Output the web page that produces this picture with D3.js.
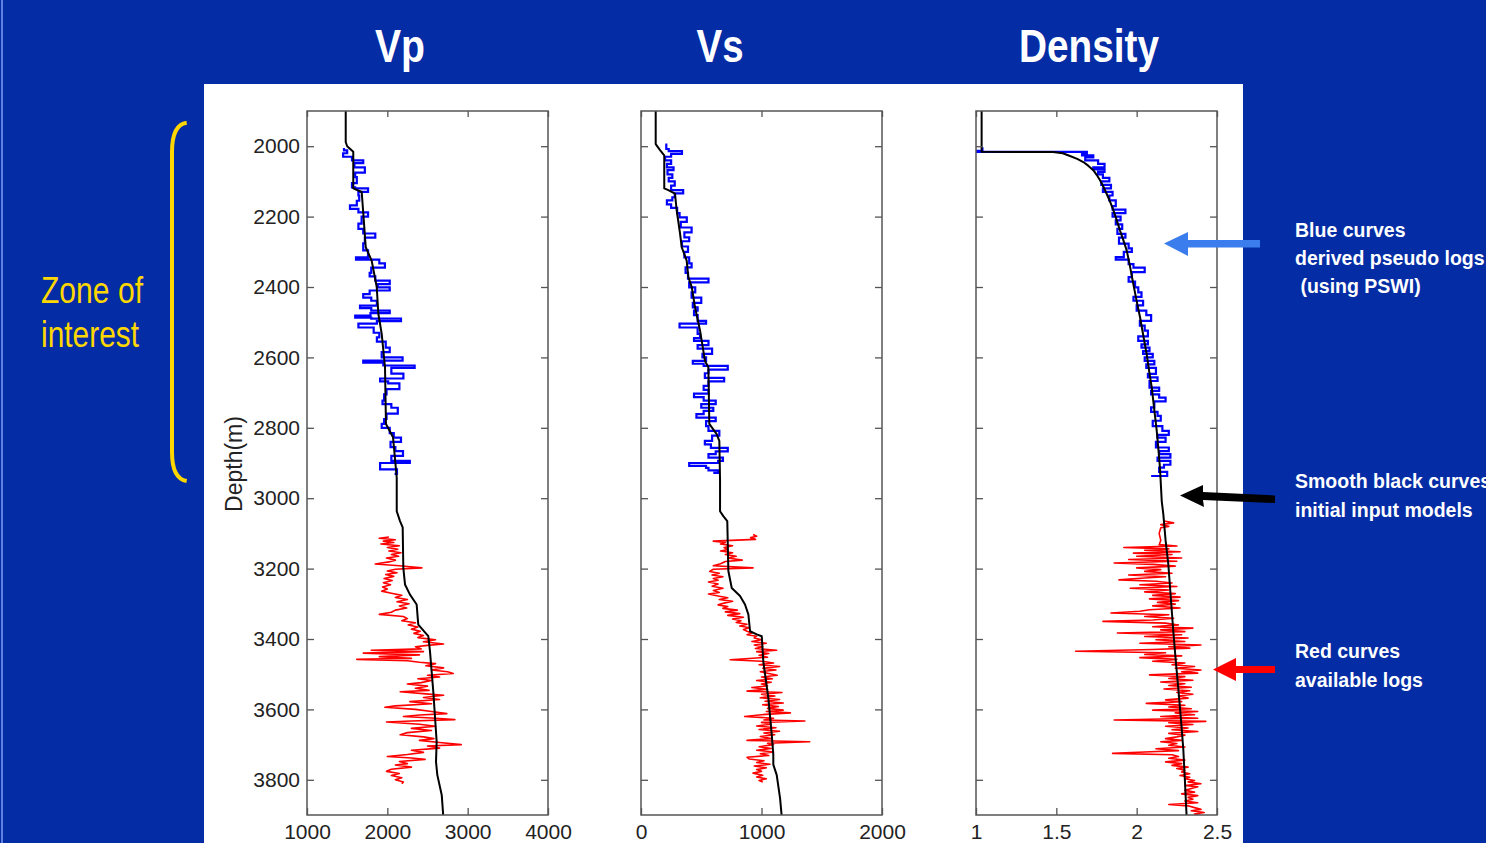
<!DOCTYPE html>
<html><head><meta charset="utf-8">
<script src="https://cdn.jsdelivr.net/npm/d3@7"></script>
<style>
html,body{margin:0;padding:0;background:#032ca5;overflow:hidden}
svg{display:block}
</style></head><body>
<svg id="c" width="1486" height="843"></svg>
<script>
// ---------- data ----------
const titles = ["Vp", "Vs", "Density"];
const depthTicks = [2000, 2200, 2400, 2600, 2800, 3000, 3200, 3400, 3600, 3800];
const vpTicks = [1000, 2000, 3000, 4000];
const vsTicks = [0, 1000, 2000];
const rhoTicks = [1, 1.5, 2, 2.5];
const depthLabel = "Depth(m)";
const zoneLabel = ["Zone of", "interest"];
const notes = [
  ["Blue curves", "derived pseudo logs", " (using PSWI)"],
  ["Smooth black curves", "initial input models"],
  ["Red curves", "available logs"]
];

// [depth, value]
const vpModel = [[1900,1482],[1988,1482],[2000,1500],[2016,1576],[2120,1576],[2130,1681],[2192,1701],[2258,1722],[2287,1731],[2325,1805],[2400,1868],[2476,1888],[2533,1930],[2628,1971],[2789,1983],[2827,2071],[2942,2117],[3037,2117],[3065,2158],[3083,2191],[3198,2199],[3245,2220],[3274,2282],[3302,2365],[3359,2385],[3392,2510],[3435,2531],[3549,2572],[3692,2614],[3749,2606],[3786,2622],[3843,2677],[3905,2697]];
const vpPseudo = [[2005,1460],[2012,1500],[2020,1450],[2030,1560],[2040,1700],[2048,1590],[2060,1720],[2075,1600],[2088,1620],[2105,1560],[2117,1600],[2120,1760],[2130,1640],[2140,1650],[2155,1620],[2168,1535],[2178,1640],[2188,1760],[2200,1680],[2220,1640],[2235,1700],[2248,1850],[2260,1720],[2276,1700],[2296,1760],[2316,1610],[2322,1900],[2333,1970],[2345,1800],[2360,1780],[2370,1850],[2382,2030],[2392,1880],[2401,2030],[2410,1780],[2420,1700],[2430,1800],[2439,1870],[2453,1660],[2460,1800],[2467,2030],[2474,1790],[2481,1600],[2487,1800],[2490,2170],[2497,1870],[2504,1640],[2515,1830],[2530,1900],[2543,1870],[2555,1980],[2572,2030],[2585,1930],[2600,2190],[2609,1700],[2615,1950],[2623,2340],[2630,2050],[2646,2200],[2660,1910],[2668,2010],[2674,2150],[2690,1990],[2705,1960],[2723,1940],[2733,2050],[2743,2130],[2760,1990],[2775,1960],[2789,1930],[2800,2030],[2815,2080],[2828,2170],[2840,2040],[2855,2100],[2866,2195],[2880,2050],[2894,2280],[2900,1910],[2908,1910],[2918,2120],[2931,2090]];
const vpLog = [[3110,2020],[3114,1900],[3118,2100],[3122,1950],[3126,2080],[3130,1920],[3135,2150],[3140,2000],[3145,2130],[3150,2020],[3155,2170],[3160,2050],[3165,2140],[3170,1990],[3176,2100],[3181,2020],[3187,1850],[3192,2150],[3198,2430],[3202,2100],[3207,2000],[3212,2120],[3217,1980],[3222,2080],[3228,1960],[3234,2060],[3240,1950],[3246,2040],[3252,1940],[3258,2000],[3264,1930],[3270,2050],[3276,2180],[3282,2100],[3288,2250],[3294,2120],[3300,2270],[3306,2150],[3312,2240],[3318,2100],[3324,2050],[3330,1900],[3336,2200],[3342,2250],[3348,2180],[3354,2350],[3360,2260],[3366,2380],[3372,2300],[3378,2410],[3384,2330],[3390,2450],[3396,2380],[3402,2600],[3408,2450],[3414,2700],[3418,2500],[3422,2350],[3428,2420],[3432,1800],[3436,2450],[3440,1700],[3445,2400],[3450,1900],[3455,2300],[3458,1620],[3462,2250],[3466,2400],[3470,2600],[3476,2480],[3482,2700],[3488,2550],[3493,2750],[3498,2820],[3503,2500],[3508,2650],[3513,2380],[3518,2550],[3524,2420],[3528,2250],[3534,2500],[3540,2350],[3546,2520],[3550,2160],[3556,2480],[3560,2700],[3566,2450],[3572,2650],[3578,2280],[3584,2550],[3590,2100],[3594,1970],[3600,2350],[3606,2550],[3612,2740],[3616,2400],[3620,2200],[3625,2600],[3629,2840],[3633,2300],[3636,1990],[3642,2400],[3648,2600],[3654,2300],[3660,2550],[3666,2250],[3672,2160],[3678,2450],[3683,2580],[3688,2400],[3694,2650],[3700,2920],[3704,2500],[3710,2650],[3716,2300],[3722,2450],[3728,2250],[3734,2000],[3738,2300],[3742,2470],[3748,2150],[3754,2250],[3758,2100],[3764,2300],[3770,2050],[3776,1990],[3782,2150],[3788,2050],[3794,2180],[3800,2100],[3806,2200],[3811,2180]];

const vsModel = [[1900,122],[1994,122],[2011,158],[2026,193],[2120,193],[2125,227],[2135,282],[2182,296],[2248,324],[2287,338],[2325,379],[2372,393],[2400,421],[2457,448],[2524,490],[2610,531],[2628,559],[2789,567],[2818,628],[2837,650],[2951,656],[3037,656],[3051,683],[3065,716],[3207,725],[3255,753],[3278,822],[3302,863],[3330,891],[3378,905],[3387,960],[3392,1002],[3464,1015],[3568,1057],[3672,1085],[3729,1098],[3757,1098],[3786,1126],[3852,1154],[3905,1168]];
const vsPseudo = [[1992,210],[2008,230],[2014,340],[2022,250],[2030,200],[2040,250],[2050,215],[2060,270],[2068,220],[2080,260],[2090,230],[2100,280],[2112,250],[2125,350],[2134,280],[2145,260],[2154,215],[2165,250],[2175,300],[2190,320],[2202,380],[2215,330],[2231,420],[2245,360],[2259,400],[2270,340],[2285,390],[2300,360],[2316,400],[2333,420],[2344,370],[2360,390],[2376,560],[2387,400],[2401,450],[2415,420],[2430,500],[2445,430],[2458,470],[2467,440],[2480,470],[2496,540],[2504,320],[2515,470],[2533,490],[2545,440],[2553,560],[2565,470],[2575,590],[2590,510],[2600,540],[2610,430],[2618,520],[2624,720],[2635,560],[2645,530],[2658,690],[2668,560],[2681,520],[2692,560],[2703,440],[2713,520],[2723,620],[2733,500],[2743,600],[2752,520],[2761,460],[2771,620],[2781,540],[2795,560],[2809,650],[2822,590],[2837,530],[2847,580],[2857,720],[2867,620],[2875,560],[2885,680],[2894,640],[2900,400],[2908,540],[2914,560],[2921,640],[2928,600]];
const vsLog = [[3103,930],[3108,960],[3112,910],[3117,950],[3122,600],[3126,700],[3130,660],[3135,760],[3140,690],[3146,720],[3150,660],[3155,760],[3160,700],[3165,790],[3170,720],[3176,840],[3180,700],[3186,660],[3192,600],[3198,930],[3202,600],[3208,570],[3213,650],[3218,590],[3223,680],[3228,600],[3233,640],[3238,560],[3244,640],[3250,590],[3256,680],[3262,600],[3268,650],[3272,560],[3278,640],[3283,720],[3288,650],[3293,760],[3298,690],[3303,640],[3308,720],[3313,680],[3318,800],[3323,700],[3328,820],[3333,720],[3338,850],[3343,760],[3348,830],[3353,790],[3358,880],[3363,820],[3368,900],[3373,850],[3378,880],[3383,920],[3388,880],[3392,960],[3397,940],[3402,1000],[3407,920],[3412,1040],[3417,940],[3422,1010],[3427,950],[3432,1126],[3436,960],[3441,1060],[3446,980],[3452,1050],[3459,740],[3463,1000],[3468,1100],[3473,980],[3478,1150],[3483,1010],[3488,1120],[3493,990],[3498,1060],[3503,1130],[3508,1000],[3513,1090],[3518,960],[3523,1080],[3528,1000],[3533,1050],[3538,920],[3543,1050],[3548,880],[3552,1170],[3557,1000],[3562,1110],[3567,990],[3572,1150],[3577,1030],[3582,1180],[3587,1010],[3592,1140],[3597,1050],[3602,1180],[3606,1040],[3610,1240],[3615,1000],[3620,860],[3625,1100],[3630,1020],[3633,1360],[3637,1000],[3642,1080],[3647,960],[3652,1120],[3657,980],[3662,1150],[3667,1020],[3672,1110],[3677,990],[3683,1080],[3688,880],[3692,1400],[3696,1050],[3700,1100],[3706,980],[3711,1080],[3716,960],[3721,1100],[3726,990],[3731,1060],[3736,880],[3741,900],[3746,1020],[3751,960],[3756,1070],[3761,940],[3766,1040],[3771,960],[3776,1000],[3781,930],[3787,1010],[3792,960],[3797,1040],[3802,980],[3806,1010]];

const rhoModel = [[1900,1.035],[2016,1.035],[2016.5,1.48],[2020,1.54],[2028,1.585],[2036,1.63],[2045,1.668],[2056,1.70],[2068,1.73],[2082,1.752],[2097,1.772],[2115,1.793],[2135,1.813],[2158,1.835],[2182,1.855],[2210,1.876],[2239,1.896],[2267,1.917],[2296,1.938],[2340,1.958],[2391,1.979],[2440,2.0],[2486,2.021],[2540,2.042],[2590,2.062],[2640,2.078],[2686,2.094],[2750,2.11],[2809,2.125],[2860,2.135],[2913,2.145],[3008,2.156],[3046,2.166],[3120,2.18],[3188,2.197],[3280,2.212],[3378,2.228],[3460,2.243],[3540,2.259],[3620,2.274],[3711,2.29],[3800,2.30],[3905,2.311]];
const rhoPseudo = [[2003,1.04],[2013,1.0],[2016,1.69],[2020,1.66],[2026,1.73],[2032,1.68],[2040,1.76],[2050,1.80],[2060,1.73],[2066,1.80],[2073,1.76],[2080,1.79],[2090,1.83],[2100,1.78],[2110,1.84],[2120,1.79],[2130,1.85],[2140,1.83],[2154,1.87],[2170,1.85],[2180,1.93],[2190,1.85],[2200,1.90],[2211,1.87],[2222,1.91],[2235,1.88],[2249,1.93],[2260,1.89],[2277,1.95],[2290,1.97],[2300,1.92],[2315,1.87],[2322,1.95],[2335,1.98],[2345,2.05],[2358,1.97],[2372,1.95],[2385,1.99],[2401,2.01],[2415,2.03],[2428,1.98],[2439,2.04],[2452,2.00],[2467,2.06],[2480,2.09],[2496,2.02],[2510,2.05],[2524,2.07],[2540,2.01],[2553,2.07],[2563,2.03],[2572,2.08],[2582,2.04],[2590,2.10],[2600,2.05],[2610,2.11],[2620,2.06],[2630,2.12],[2647,2.07],[2657,2.13],[2667,2.08],[2686,2.14],[2695,2.09],[2705,2.14],[2714,2.18],[2725,2.11],[2742,2.09],[2755,2.13],[2766,2.15],[2780,2.10],[2795,2.16],[2809,2.20],[2820,2.13],[2828,2.18],[2840,2.12],[2856,2.20],[2866,2.14],[2875,2.21],[2885,2.13],[2894,2.21],[2905,2.17],[2913,2.14],[2925,2.19],[2937,2.09]];
const rhoLog = [[3065,2.17],[3070,2.23],[3075,2.15],[3080,2.20],[3084,2.15],[3100,2.14],[3120,2.15],[3132,2.14],[3136,2.25],[3140,1.92],[3144,2.20],[3148,2.05],[3152,2.27],[3156,1.98],[3160,2.22],[3165,2.00],[3170,2.28],[3174,1.95],[3179,2.25],[3184,1.86],[3188,2.10],[3193,2.24],[3198,2.00],[3203,2.15],[3208,2.05],[3213,2.22],[3218,1.95],[3223,2.18],[3228,2.00],[3232,1.89],[3236,2.12],[3241,2.22],[3246,2.02],[3251,2.25],[3256,1.96],[3261,2.20],[3266,2.05],[3271,2.24],[3276,2.10],[3281,2.27],[3286,2.08],[3291,2.26],[3296,2.13],[3301,2.24],[3306,2.10],[3312,2.27],[3317,2.08],[3321,2.02],[3326,1.84],[3331,2.20],[3336,2.05],[3341,2.23],[3346,2.10],[3350,1.79],[3355,2.18],[3360,2.26],[3365,2.10],[3369,2.35],[3374,2.15],[3379,2.30],[3383,1.88],[3388,2.28],[3393,2.05],[3397,2.32],[3402,2.12],[3407,2.30],[3412,2.02],[3417,2.40],[3422,2.20],[3426,2.33],[3430,2.10],[3435,1.62],[3439,2.18],[3444,2.05],[3448,2.28],[3453,2.02],[3458,2.25],[3463,2.10],[3468,2.30],[3473,2.22],[3478,2.36],[3483,2.24],[3488,2.40],[3493,2.28],[3497,2.38],[3502,2.08],[3507,2.30],[3512,2.20],[3517,2.35],[3522,2.15],[3527,2.30],[3532,2.20],[3537,2.34],[3542,2.17],[3547,2.33],[3552,2.25],[3557,2.35],[3562,2.26],[3568,2.32],[3573,2.18],[3578,2.28],[3583,2.06],[3588,2.30],[3593,2.20],[3598,2.34],[3602,2.10],[3606,2.38],[3610,2.24],[3615,2.36],[3620,2.15],[3625,2.38],[3630,1.86],[3634,2.43],[3638,2.20],[3643,2.35],[3648,2.18],[3653,2.32],[3658,2.22],[3663,2.38],[3668,2.20],[3673,2.30],[3678,2.25],[3683,2.18],[3688,2.28],[3692,2.15],[3697,2.25],[3702,2.20],[3707,2.30],[3712,2.12],[3717,2.26],[3721,2.05],[3725,1.85],[3729,2.22],[3734,2.26],[3739,2.20],[3744,2.30],[3749,2.18],[3754,2.28],[3759,2.22],[3764,2.32],[3768,2.25],[3773,2.30],[3778,2.28],[3783,2.33],[3788,2.27],[3793,2.33],[3797,2.30],[3802,2.36],[3806,2.32],[3811,2.40],[3816,2.30],[3820,2.38],[3825,2.34],[3830,2.30],[3835,2.36],[3840,2.28],[3845,2.38],[3850,2.32],[3855,2.35],[3860,2.30],[3865,2.38],[3870,2.20],[3874,2.32],[3879,2.36],[3884,2.40],[3888,2.34],[3893,2.42],[3897,2.36],[3902,2.40]];

// ---------- drawing ----------
const svg = d3.select("#c");
const BG = "#032ca5";
svg.append("rect").attr("width",1486).attr("height",843).attr("fill",BG);
svg.append("line").attr("x1",2).attr("x2",2).attr("y1",0).attr("y2",843)
  .attr("stroke","#7f9cf5").attr("stroke-width",1.5);

// white figure panel
svg.append("rect").attr("x",204).attr("y",84).attr("width",1039).attr("height",759).attr("fill","#ffffff");

const y = d3.scaleLinear().domain([1900,3900]).range([111,815]);
const panels = [
  {title:titles[0], tx:400, tw:50, domain:[1000,4000], range:[307,548], ticks:vpTicks, model:vpModel, pseudo:vpPseudo, log:vpLog, labels:true},
  {title:titles[1], tx:720, tw:47, domain:[0,2000], range:[641,882], ticks:vsTicks, model:vsModel, pseudo:vsPseudo, log:vsLog, labels:false},
  {title:titles[2], tx:1089, tw:140, domain:[1,2.5], range:[976,1217], ticks:rhoTicks, model:rhoModel, pseudo:rhoPseudo, log:rhoLog, labels:false}
];
const tickFont = "'Liberation Sans', Arial, sans-serif";

panels.forEach((p,i) => {
  const x = d3.scaleLinear().domain(p.domain).range(p.range);
  const [x0,x1] = p.range, [y0,y1] = y.range();
  // title (condensed bold)
  svg.append("text").attr("x",p.tx - p.tw/2).attr("y",62)
    .attr("font-family",tickFont).attr("font-weight","bold").attr("font-size",46)
    .attr("textLength",p.tw).attr("lengthAdjust","spacingAndGlyphs")
    .attr("fill","#ffffff").text(p.title);

  const clipId = "clip"+i;
  svg.append("clipPath").attr("id",clipId).append("rect")
    .attr("x",x0).attr("y",y0).attr("width",x1-x0).attr("height",y1-y0);
  const g = svg.append("g").attr("clip-path",`url(#${clipId})`);

  const lin = d3.line().x(d=>x(d[1])).y(d=>y(d[0]));

  g.append("path").attr("d",lin(p.log)).attr("fill","none")
    .attr("stroke","#ff0000").attr("stroke-width",1.6).attr("stroke-linejoin","round");
  // pseudo logs: blocky, value held over each depth interval
  const blocky = [];
  p.pseudo.forEach((d,k) => {
    if (k>0) blocky.push([d[0], p.pseudo[k-1][1]]);
    blocky.push(d);
  });
  g.append("path").attr("d",lin(blocky)).attr("fill","none")
    .attr("stroke","#0000ff").attr("stroke-width",2.2).attr("stroke-linejoin","miter");
  g.append("path").attr("d",lin(p.model)).attr("fill","none")
    .attr("stroke","#000000").attr("stroke-width",2).attr("stroke-linejoin","round");

  // axes (inward ticks)
  const axCol = "#555";
  const left = d3.axisLeft(y).tickValues(depthTicks).tickSize(-7).tickSizeOuter(0).tickPadding(7)
    .tickFormat(p.labels ? d3.format("d") : "");
  const gl = svg.append("g").attr("transform",`translate(${x0},0)`).call(left);
  const gr = svg.append("g").attr("transform",`translate(${x1},0)`)
    .call(d3.axisRight(y).tickValues(depthTicks).tickSize(-7).tickSizeOuter(0).tickFormat(""));
  const gt = svg.append("g").attr("transform",`translate(0,${y0})`)
    .call(d3.axisTop(x).tickValues(p.ticks).tickSize(-6).tickSizeOuter(0).tickFormat(""));
  const gb = svg.append("g").attr("transform",`translate(0,${y1})`)
    .call(d3.axisBottom(x).tickValues(p.ticks).tickSize(-7).tickSizeOuter(0).tickPadding(9).tickFormat(d3.format("")));
  [gl,gr,gt,gb].forEach(a => {
    a.select(".domain").remove();
    a.selectAll("line").attr("stroke",axCol).attr("stroke-width",1.3);
    a.selectAll("text").attr("font-family",tickFont).attr("font-size",21).attr("fill","#222");
  });
  svg.append("rect").attr("x",x0).attr("y",y0).attr("width",x1-x0).attr("height",y1-y0)
    .attr("fill","none").attr("stroke",axCol).attr("stroke-width",1.5);

  if (p.labels) {
    svg.append("text").attr("transform",`translate(242,464) rotate(-90)`)
      .attr("text-anchor","middle").attr("font-family",tickFont).attr("font-size",23)
      .attr("fill","#222").text(depthLabel);
  }
});

// zone of interest bracket + label
const yellow = "#ffd700";
svg.append("path")
  .attr("d","M186.7,122.7 C177,124 172,134 172,152 L172,452 C172,470 177,479.5 186.7,481")
  .attr("fill","none").attr("stroke",yellow).attr("stroke-width",4);
const zoneW = [102, 98];
svg.selectAll("text.zone").data(zoneLabel).join("text").attr("class","zone")
  .attr("x",41).attr("y",(d,i)=>303+i*44).attr("font-family",tickFont)
  .attr("textLength",(d,i)=>zoneW[i]).attr("lengthAdjust","spacingAndGlyphs")
  .attr("font-size",37).attr("fill",yellow).text(d=>d);

// annotation arrows
const arrows = [
  {col:"#3b7ded", pts:[[1164,243.5],[1188,232],[1188,240],[1260,240],[1260,247.5],[1188,247.5],[1188,256]]},
  {col:"#000000", pts:[[1180,495.5],[1203,485],[1203,492],[1275,495.5],[1275,503],[1203,500],[1204,507]]},
  {col:"#ff0000", pts:[[1213,669.5],[1236,658],[1236,666],[1275,666],[1275,673],[1236,673],[1236,681]]}
];
arrows.forEach(a => svg.append("polygon").attr("points",a.pts.map(p=>p.join(",")).join(" ")).attr("fill",a.col));

const noteY = [[237,265,293],[488,517],[658,687]];
notes.forEach((lines,i) => {
  lines.forEach((t,j) => {
    svg.append("text").attr("x",1295).attr("y",noteY[i][j])
      .attr("font-family",tickFont).attr("font-weight","bold").attr("font-size",19.5)
      .attr("fill","#ffffff").style("white-space","pre").text(t);
  });
});
</script>
</body></html>
